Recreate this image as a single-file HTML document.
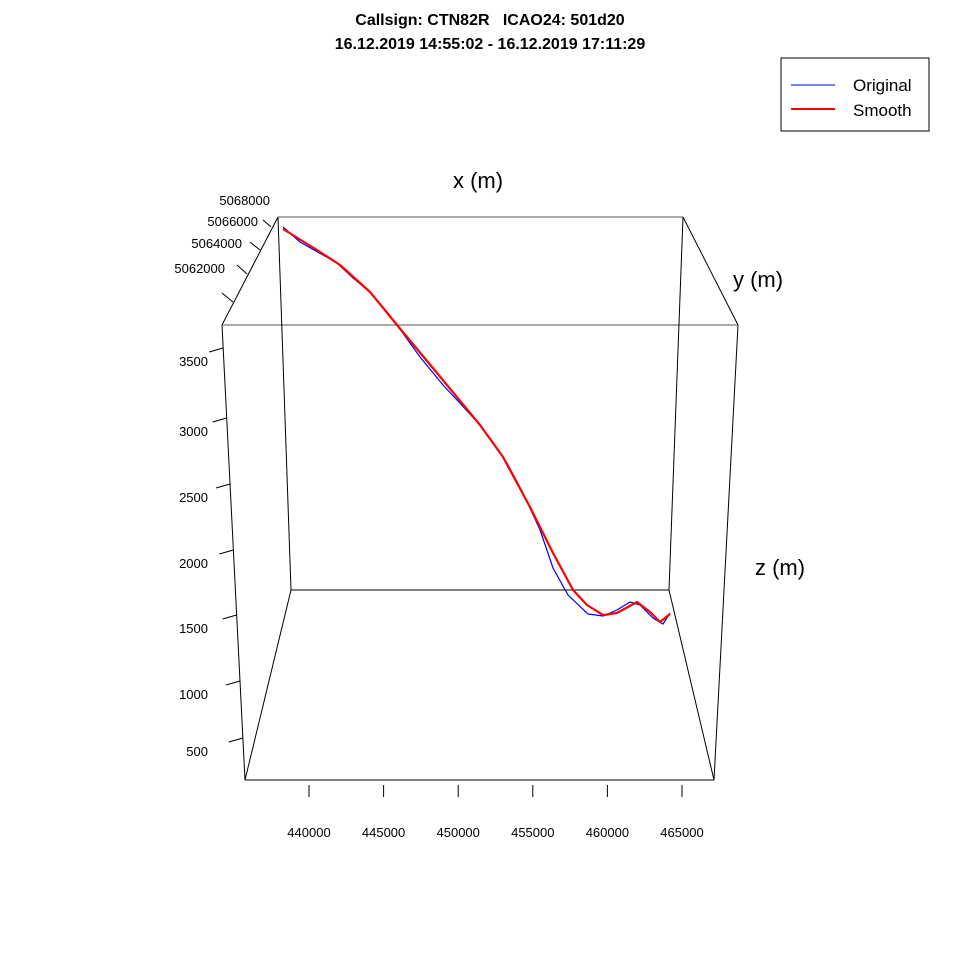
<!DOCTYPE html>
<html><head><meta charset="utf-8"><style>
body{margin:0;background:#fff;}
svg text{font-family:"Liberation Sans",Arial,sans-serif;}
</style></head><body>
<svg id="chart" width="960" height="960" viewBox="0 0 960 960" xmlns="http://www.w3.org/2000/svg">
<rect width="960" height="960" fill="#fff"/>
<text x="490" y="25" font-size="16" font-weight="bold" text-anchor="middle" xml:space="preserve" style="white-space:pre">Callsign: CTN82R   ICAO24: 501d20</text>
<text x="490" y="49" font-size="16" font-weight="bold" text-anchor="middle">16.12.2019 14:55:02 - 16.12.2019 17:11:29</text>
<g>
<rect x="781" y="58" width="148" height="73" fill="#fff" stroke="#000"/>
<line x1="791" y1="85" x2="835" y2="85" stroke="#00f" stroke-width="1"/>
<text x="853" y="91" font-size="17">Original</text>
<line x1="791" y1="109" x2="835" y2="109" stroke="#f00" stroke-width="2"/>
<text x="853" y="116" font-size="17">Smooth</text>
</g>
<g id="box" stroke="#000" stroke-width="1" fill="none">
<line x1="245" y1="780" x2="714" y2="780"/>
<line x1="245" y1="780" x2="222" y2="325"/>
<line x1="714" y1="780" x2="738" y2="325"/>
<line x1="222" y1="325" x2="738" y2="325" stroke="#555"/>
<line x1="278" y1="217" x2="683" y2="217" stroke="#555"/>
<line x1="278" y1="217" x2="291" y2="590"/>
<line x1="683" y1="217" x2="669" y2="590"/>
<line x1="291" y1="590" x2="669" y2="590"/>
<line x1="222" y1="325" x2="278" y2="217"/>
<line x1="738" y1="325" x2="683" y2="217"/>
<line x1="245" y1="780" x2="291" y2="590"/>
<line x1="714" y1="780" x2="669" y2="590"/>
</g>
<g id="axes"></g>
<g id="series"></g>
<text x="478" y="188" font-size="22" text-anchor="middle">x (m)</text>
<text x="758" y="287" font-size="22" text-anchor="middle">y (m)</text>
<text x="780" y="575" font-size="22" text-anchor="middle">z (m)</text>
</svg>
<script>
const xTicks=[440000,445000,450000,455000,460000,465000];
const zTicks=[3500,3000,2500,2000,1500,1000,500];
const yTicks=["5068000","5066000","5064000","5062000"];
const origX=[436388,437705,440574,441814,443132,444527,445225,447008,448791,449876,451426,452434,453752,454992,456310,457318,458480,460031,461194,462279,463287,464062,465070,465845,466388];
const origZ=[3824,3685,3491,3352,3222,3028,2917,2620,2361,2222,2019,1870,1639,1361,1019,667,417,241,222,278,352,324,204,148,250];
const smoothX=[436388,439023,440806,443132,445225,448326,451659,453442,455535,457318,458868,459954,461194,462279,463829,464837,465612,466388];
const smoothZ=[3806,3611,3472,3222,2917,2472,1991,1694,1231,806,463,324,231,250,352,259,167,241];
const NS='http://www.w3.org/2000/svg';
function xPx(x){return 278+(x-436000)*0.0129;}
function zPy(z){return 640-z*0.108;}
function frontX(x){return 309+(x-440000)*0.01492;}
const axes=document.getElementById('axes');
function mk(tag,attrs,parent){const e=document.createElementNS(NS,tag);for(const k in attrs)e.setAttribute(k,attrs[k]);parent.appendChild(e);return e;}
xTicks.forEach(v=>{
  const px=frontX(v);
  const l=mk('line',{x1:px,y1:785,x2:px,y2:797,stroke:'#000'},axes);
  
  
  const t=mk('text',{x:px,y:837,'font-size':13,'text-anchor':'middle'},axes);
  
  
  t.textContent=v;
});
const zLabelY=[366,436,502,568,633,699,756];
zTicks.forEach((v,i)=>{
  const y=zLabelY[i]-18, ex=222+(y-325)*0.0505;
  const l=mk('line',{x1:ex,y1:y,x2:ex-14,y2:y+4,stroke:'#000'},axes);
  
  
  const t=mk('text',{x:208,y:zLabelY[i],'font-size':13,'text-anchor':'end'},axes);
  
  
  t.textContent=v;
});
const yTickLines=[[263,220,271,227],[250,242,260,250],[237,265,247,274],[222,293,233,302]];
const yLab=[[270,205],[258,226],[242,248],[225,273]];
yTickLines.forEach(a=>{
  const l=mk('line',{x1:a[0],y1:a[1],x2:a[2],y2:a[3],stroke:'#000'},axes);
  
  
});
yTicks.forEach((v,i)=>{
  const t=mk('text',{x:yLab[i][0],y:yLab[i][1],'font-size':13,'text-anchor':'end'},axes);
  
  
  t.textContent=v;
});
const series=document.getElementById('series');
function pts(X,Z){return X.map((x,i)=>xPx(x).toFixed(1)+','+zPy(Z[i]).toFixed(1)).join(' ');}
const o=mk('polyline',{points:pts(origX,origZ),fill:'none',stroke:'#00f','stroke-width':1.2},series);


const s=mk('polyline',{points:pts(smoothX,smoothZ),fill:'none',stroke:'#f00','stroke-width':2.2,'stroke-linejoin':'round'},series);


</script>
</body></html>
